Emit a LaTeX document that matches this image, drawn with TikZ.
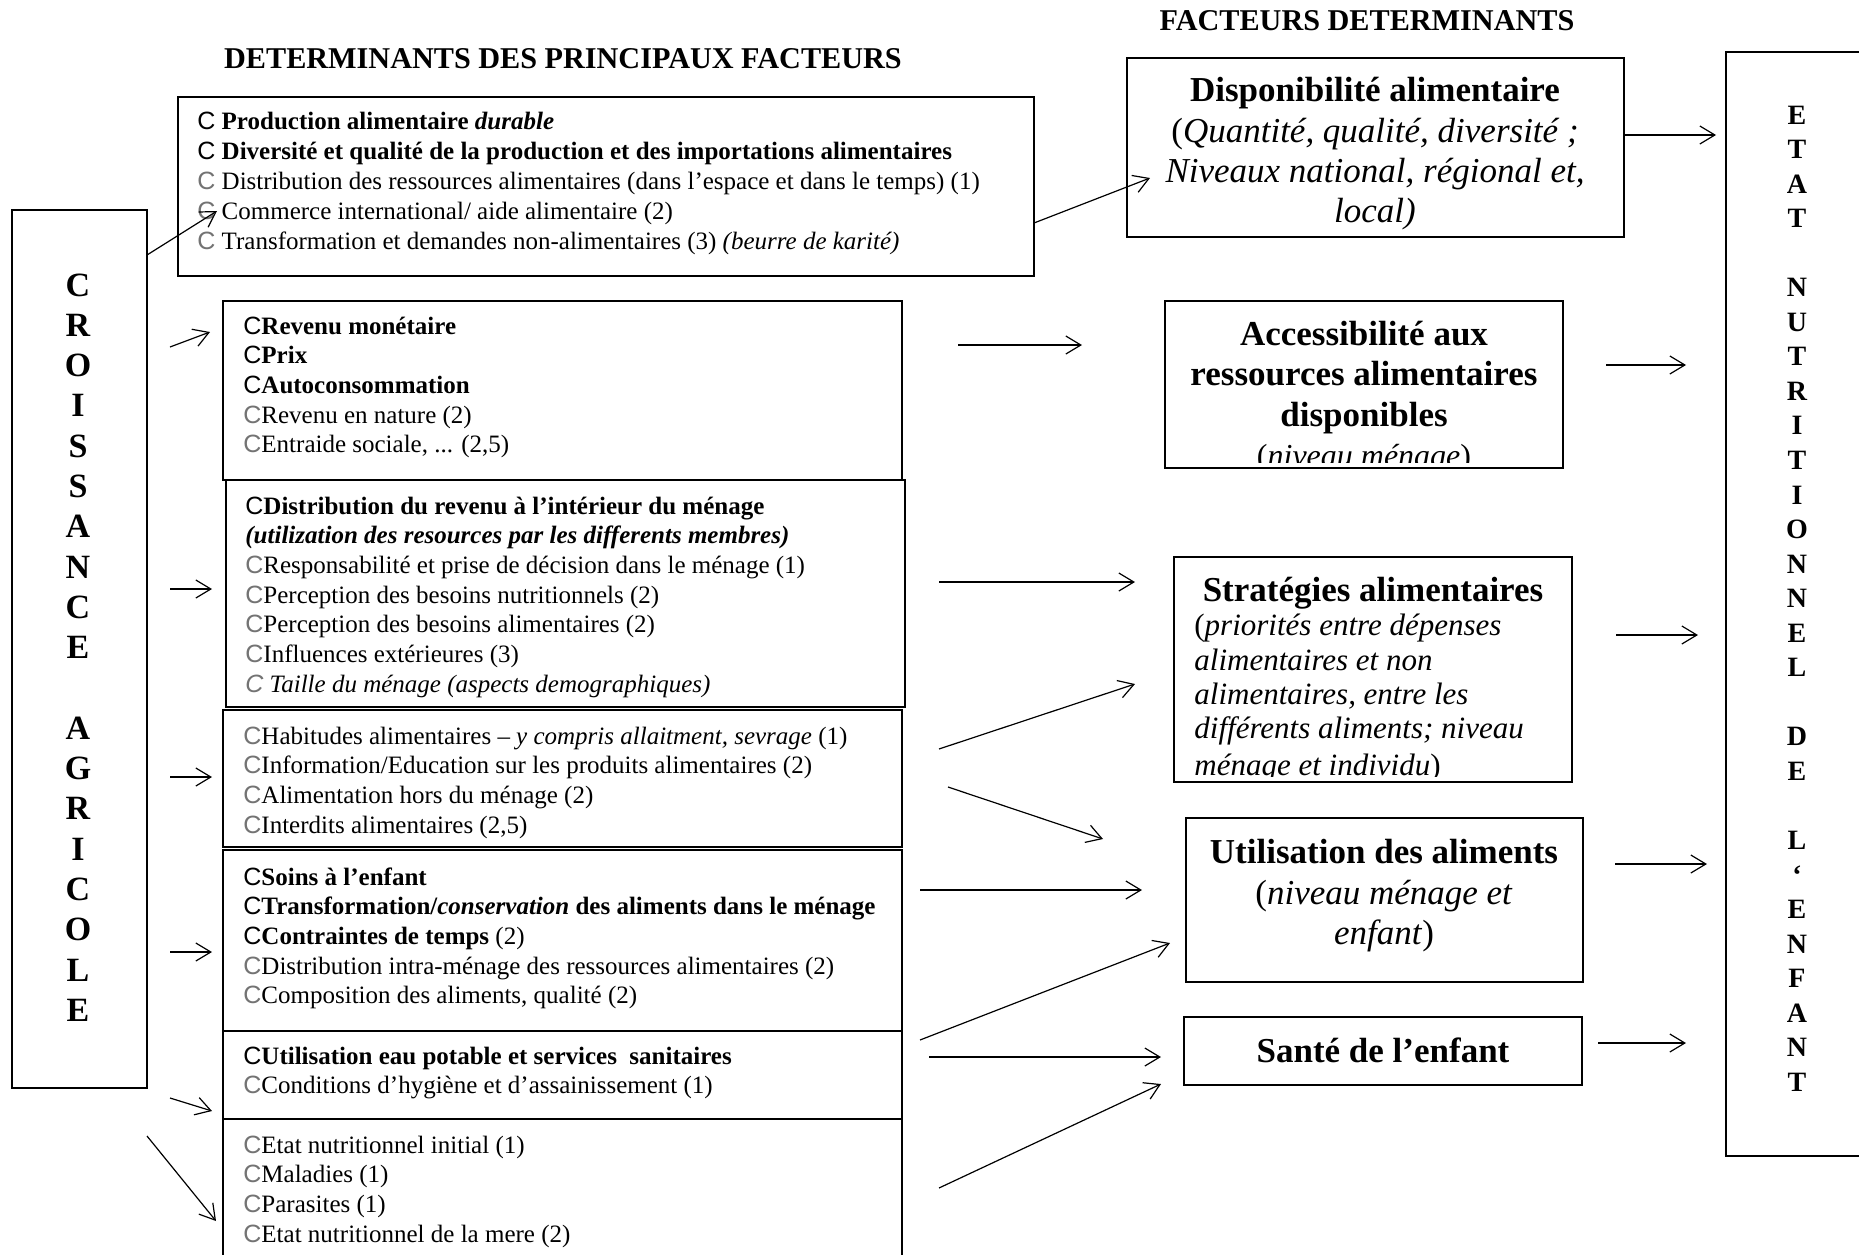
\documentclass[tikz,border=0pt]{standalone}
\usepackage{fontspec}
\setmainfont{Liberation Serif}
\newfontfamily\bulfont{Liberation Sans}
\usetikzlibrary{arrows.meta}
\newcommand\cb{{\bulfont\mdseries\upshape C}}
\newcommand\cg{{\bulfont\mdseries\upshape\color{black!55}C}}
\newcommand\ci{{\bulfont\mdseries\itshape\color{black!55}C}}
\newcommand\ddd{...}
\tikzset{
  fr/.style 2 args={draw, line width=0.8pt, anchor=north west, inner sep=0pt, outer sep=0pt,
    minimum width=#1*0.5pt, minimum height=#2*0.5pt},
  li/.style={anchor=base west, inner sep=0pt, font=\fontsize{12.5}{15}\selectfont},
  rt/.style={anchor=base, inner sep=0pt, font=\fontsize{17.5}{20}\selectfont},
  rtl/.style={anchor=base west, inner sep=0pt, font=\fontsize{15.5}{18}\selectfont\itshape},
  hd/.style={anchor=base, inner sep=0pt, font=\fontsize{15.1}{17}\selectfont\bfseries},
  vl/.style={anchor=base, inner sep=0pt, font=\fontsize{17}{20}\selectfont\bfseries},
  vr/.style={anchor=base, inner sep=0pt, font=\fontsize{14}{16}\selectfont\bfseries},
  arr/.style={-{Straight Barb[length=7.5pt,width=9pt]}, line width=0.6pt}
}
\begin{document}
\begin{tikzpicture}[x=0.5pt, y=-0.5pt]
\useasboundingbox (0,0) rectangle (1859,1254);
\fill[white] (0,0) rectangle (1859,1254);
\clip (0,0) rectangle (1859,1254);

% headers
\node[hd] (h1) at (563,68) {DETERMINANTS DES PRINCIPAUX FACTEURS};
\node[hd] (h2) at (1367,30) {FACTEURS DETERMINANTS};

% frames
\node[fr={856}{179}] (A) at (178,97) {};
\node[fr={679}{179}] (B1) at (223,301) {};
\node[fr={679}{227}] (B2) at (226,480) {};
\node[fr={679}{137}] (B3) at (223,710) {};
\node[fr={679}{181}] (B4) at (223,850) {};
\node[fr={679}{88}] (B5) at (223,1031) {};
\node[fr={679}{200}] (B6) at (223,1119) {};
\node[fr={135}{878}] (CRO) at (12,210) {};
\node[fr={497}{179}] (DIS) at (1127,58) {};
\node[fr={398}{167}] (ACC) at (1165,301) {};
\node[fr={398}{225}] (STR) at (1174,557) {};
\node[fr={397}{164}] (UTI) at (1186,818) {};
\node[fr={398}{68}] (SAN) at (1184,1017) {};
\node[fr={200}{1104}] (ETA) at (1726,52) {};

% box A
\foreach \t [count=\i from 0] in {
 {\cb\ \textbf{Production alimentaire \textit{durable}}},
 {\cb\ \textbf{Diversité et qualité de la production et des importations alimentaires}},
 {\cg\ Distribution des ressources alimentaires (dans l’espace et dans le temps) (1)},
 {\cg\ Commerce international/ aide alimentaire (2)},
 {\cg\ Transformation et demandes non-alimentaires (3) \textit{(beurre de karité)}}}
 \node[li] (a\i) at (197,129+30*\i) {\t};

% box B1
\foreach \t [count=\i from 0] in {
 {\cb\textbf{Revenu monétaire}},
 {\cb\textbf{Prix}},
 {\cb\textbf{Autoconsommation}},
 {\cg Revenu en nature (2)},
 {\cg Entraide sociale, \ddd{} (2,5)}}
 \node[li] (b\i) at (243,334+29.7*\i) {\t};

% box B2
\foreach \t [count=\i from 0] in {
 {\cb\textbf{Distribution du revenu à l’intérieur du ménage}},
 {\textbf{\textit{(utilization des resources par les differents membres)}}},
 {\cg Responsabilité et prise de décision dans le ménage (1)},
 {\cg Perception des besoins nutritionnels (2)},
 {\cg Perception des besoins alimentaires (2)},
 {\cg Influences extérieures (3)},
 {\ci\ \textit{Taille du ménage (aspects demographiques)}}}
 \node[li] (c\i) at (245,514+29.7*\i) {\t};

% box B3
\foreach \t [count=\i from 0] in {
 {\cg Habitudes alimentaires – \textit{y compris allaitment, sevrage} (1)},
 {\cg Information/Education sur les produits alimentaires (2)},
 {\cg Alimentation hors du ménage (2)},
 {\cg Interdits alimentaires (2,5)}}
 \node[li] (d\i) at (243,744+29.7*\i) {\t};

% box B4
\foreach \t [count=\i from 0] in {
 {\cb\textbf{Soins à l’enfant}},
 {\cb\textbf{Transformation/\textit{conservation} des aliments dans le ménage}},
 {\cb\textbf{Contraintes de temps} (2)},
 {\cg Distribution intra-ménage des ressources alimentaires (2)},
 {\cg Composition des aliments, qualité (2)}}
 \node[li] (e\i) at (243,885+29.7*\i) {\t};

% box B5
\foreach \t [count=\i from 0] in {
 {\cb\textbf{Utilisation eau potable et services\ \ sanitaires}},
 {\cg Conditions d’hygiène et d’assainissement (1)}}
 \node[li] (f\i) at (243,1064+29.7*\i) {\t};

% box B6
\foreach \t [count=\i from 0] in {
 {\cg Etat nutritionnel initial (1)},
 {\cg Maladies (1)},
 {\cg Parasites (1)},
 {\cg Etat nutritionnel de la mere (2)}}
 \node[li] (g\i) at (243,1153+29.7*\i) {\t};

% right boxes
\node[rt] (dis0) at (1375,101) {\textbf{Disponibilité alimentaire}};
\node[rt] (dis1) at (1375,142) {(\textit{Quantité, qualité, diversité ;}};
\node[rt] (dis2) at (1375,182) {\textit{Niveaux national, régional et,}};
\node[rt] (dis3) at (1375,222) {\textit{local)}};

\begin{scope}
\clip (ACC.north west) rectangle ([yshift=3pt]ACC.south east);
\node[rt] (acc0) at (1364,345) {\textbf{Accessibilité aux}};
\node[rt] (acc1) at (1364,385) {\textbf{ressources alimentaires}};
\node[rt] (acc2) at (1364,426) {\textbf{disponibles}};
\node[rt, font=\fontsize{16}{18}\selectfont] (acc3) at (1364,466) {(\textit{niveau ménage})};
\end{scope}

\begin{scope}
\clip (STR.north west) rectangle ([yshift=3pt]STR.south east);
\node[rt] (str0) at (1373,601) {\textbf{Stratégies alimentaires}};
\node[rtl] (str1) at (1194,635) {\upshape(\itshape priorités entre dépenses};
\node[rtl] (str2) at (1194,670) {alimentaires et non};
\node[rtl] (str3) at (1194,704) {alimentaires, entre les};
\node[rtl] (str4) at (1194,738) {différents aliments; niveau};
\node[rtl] (str5) at (1194,775) {ménage et individu\upshape)};
\end{scope}

\node[rt] (uti0) at (1384,863) {\textbf{Utilisation des aliments}};
\node[rt] (uti1) at (1384,904) {(\textit{niveau ménage et}};
\node[rt] (uti2) at (1384,944) {\textit{enfant})};
\node[rt] (san0) at (1383,1062) {\textbf{Santé de l’enfant}};

% vertical letters
\foreach \ch/\k in {C/0,R/1,O/2,I/3,S/4,S/5,A/6,N/7,C/8,E/9,A/11,G/12,R/13,I/14,C/15,O/16,L/17,E/18}
  \node[vl] (cr\k) at (78,296+40.3*\k) {\ch};
\foreach \ch/\k in {E/0,T/1,A/2,T/3,N/5,U/6,T/7,R/8,I/9,T/10,I/11,O/12,N/13,N/14,E/15,L/16,D/18,E/19,L/21,‘/22,E/23,N/24,F/25,A/26,N/27,T/28}
  \node[vr] (et\k) at (1797,124+34.55*\k) {\ch};

% arrows
\foreach \n/\xa/\ya/\xb/\yb in {
  1/147/255/217/211, 2/1034/223/1150/178, 3/170/347/210/332, 4/170/589/212/589,
  5/170/777/212/777, 6/170/952/212/952, 7/170/1098/212/1111, 8/147/1136/216/1221,
  9/958/345/1082/345, 10/939/582/1135/582, 11/939/749/1135/684, 12/948/787/1103/839,
  13/920/890/1142/890, 14/920/1040/1170/943, 15/929/1057/1161/1057, 16/939/1188/1161/1084,
  17/1624/135/1716/135, 18/1606/365/1686/365, 19/1616/635/1698/635, 20/1615/864/1707/864,
  21/1598/1043/1686/1043}
{
  \coordinate (p\n s) at (\xa,\ya);
  \coordinate (p\n e) at (\xb,\yb);
  \draw[arr] (p\n s) -- (p\n e);
}
\end{tikzpicture}
\end{document}
